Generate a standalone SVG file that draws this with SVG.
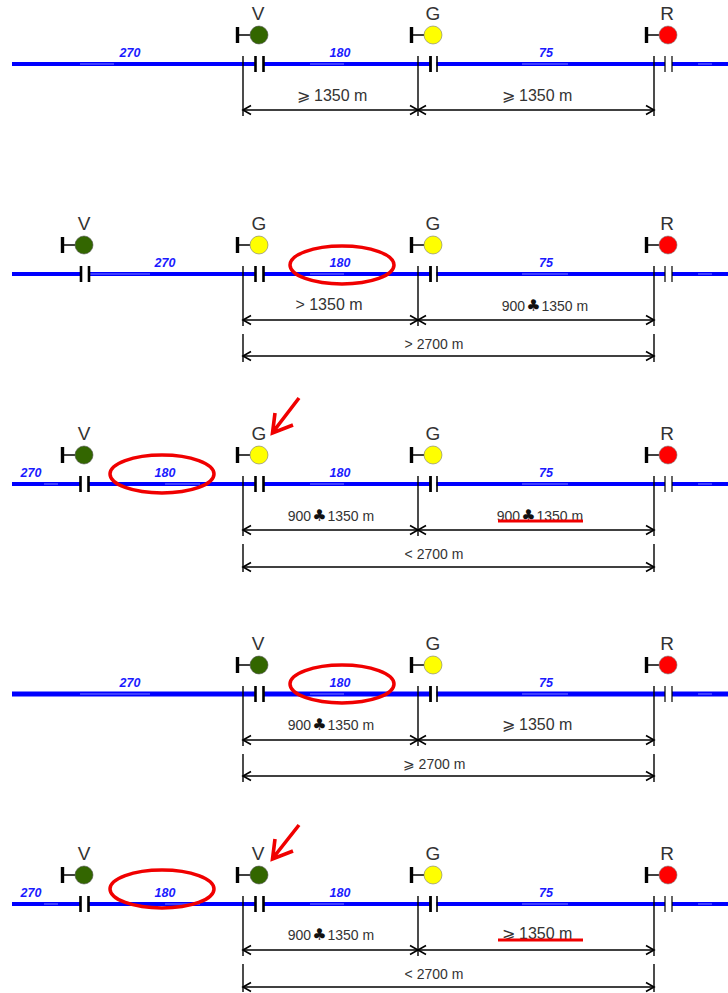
<svg xmlns="http://www.w3.org/2000/svg" width="728" height="993" viewBox="0 0 728 993">
<style>
text{font-family:"Liberation Sans",Arial,sans-serif;text-anchor:middle}
.sig{font-size:19px;fill:#333}
.sp{font-size:12.5px;font-style:italic;font-weight:bold;fill:#1a1aff}
.d1{font-size:16px;fill:#333}
.d2{font-size:14px;fill:#333}
.club{font-family:"DejaVu Sans",sans-serif;font-size:16px;fill:#111}
.track{stroke:#0000ff;stroke-width:4;fill:none}
.track5{stroke:#0000ff;stroke-width:5;fill:none}
.tick{stroke:#000;stroke-width:1.4;fill:none}
.dim{stroke:#000;stroke-width:1.4;fill:none;marker-start:url(#aL);marker-end:url(#aR)}
.ell{fill:none;stroke:#f00000;stroke-width:3.5}
.red{stroke:#f00000;stroke-width:3;fill:none}
.arr{stroke:#f00000;stroke-width:3.6;fill:none}
.hi{stroke:#7a7aff;stroke-width:1;fill:none}
</style>
<defs>
<marker id="aR" markerUnits="userSpaceOnUse" markerWidth="12" markerHeight="12" refX="10" refY="6" orient="auto"><path d="M2 1.5 L10 6 L2 10.5" fill="none" stroke="#000" stroke-width="1.6"/></marker>
<marker id="aL" markerUnits="userSpaceOnUse" markerWidth="12" markerHeight="12" refX="2" refY="6" orient="auto"><path d="M10 1.5 L2 6 L10 10.5" fill="none" stroke="#000" stroke-width="1.6"/></marker>
<g id="joint"><rect x="-4" y="-3.5" width="8" height="7" fill="#fff"/><path d="M-4 -8V8" stroke="#000" stroke-width="2.6"/><path d="M4 -8V8" stroke="#000" stroke-width="2.6"/></g>
<g id="jointg"><rect x="-3" y="-3.5" width="6" height="7" fill="#fff"/><path d="M-3 -8V8" stroke="#000" stroke-width="2.8"/><path d="M3.5 -8V8" stroke="#000" stroke-width="1.6"/></g>
<g id="jointr"><rect x="-3.5" y="-3.5" width="7" height="7" fill="#fff"/><path d="M-3.5 -8V8" stroke="#000" stroke-width="1.2"/><path d="M3.5 -8V8" stroke="#000" stroke-width="1.2"/></g>
<g id="head"><path d="M-21.5 -8V8" stroke="#000" stroke-width="3.4"/><path d="M-21.5 0H-9" stroke="#000" stroke-width="1.5"/></g>
<circle id="lv" r="9" fill="#336600" stroke="#555" stroke-width=".6"/>
<circle id="lg" r="9" fill="#ffff00" stroke="#777" stroke-width=".6"/>
<circle id="lr" r="9" fill="#ff0000" stroke="#777" stroke-width=".6"/>
</defs>
<g id="connectors">
<path class="track" d="M12 64H728M12 274H728M12 484H728M12 904H728"/>
<path class="track5" d="M12 694H728"/>
<path class="hi" d="M310 64H344M80 64H114M522 64H568M80 274H150M310 274H344M522 274H568M44 484H58M165 484H200M310 484H344M522 484H568M80 694H150M310 694H344M522 694H568M44 904H58M165 904H200M310 904H344M522 904H568M698 64H712M698 274H712M698 484H712M698 694H712M698 904H712"/>
<path class="tick" d="M243 56V116M418 56V116M654 56V116M243 266V326M418 266V326M654 266V326M243 334V362M654 334V362M243 476V536M418 476V536M654 476V536M243 544V572M654 544V572M243 686V746M418 686V746M654 686V746M243 754V782M654 754V782M243 896V956M418 896V956M654 896V956M243 964V992M654 964V992"/>
<path class="dim" d="M243 110H418"/><path class="dim" d="M418 110H654"/>
<path class="dim" d="M243 320H418"/><path class="dim" d="M418 320H654"/><path class="dim" d="M243 356H654"/>
<path class="dim" d="M243 530H418"/><path class="dim" d="M418 530H654"/><path class="dim" d="M243 567H654"/>
<path class="dim" d="M243 740H418"/><path class="dim" d="M418 740H654"/><path class="dim" d="M243 776H654"/>
<path class="dim" d="M243 950H418"/><path class="dim" d="M418 950H654"/><path class="dim" d="M243 987H654"/>
</g>
<g id="row1">
<use href="#joint" x="259.5" y="64"/><use href="#jointg" x="433.5" y="64"/><use href="#jointr" x="668.5" y="64"/>
<g id="s1v"><use href="#head" x="259" y="35"/><use href="#lv" x="259" y="35"/><text class="sig" x="258" y="20">V</text></g>
<g id="s1g"><use href="#head" x="433" y="35"/><use href="#lg" x="433" y="35"/><text class="sig" x="433" y="20">G</text></g>
<g id="s1r"><use href="#head" x="668" y="35"/><use href="#lr" x="668" y="35"/><text class="sig" x="667" y="20">R</text></g>
<text class="sp" x="130" y="57">270</text><text class="sp" x="340" y="57">180</text><text class="sp" x="546" y="57">75</text>
<text class="d1" x="332" y="101">⩾ 1350 m</text><text class="d1" x="537" y="101">⩾ 1350 m</text>
</g>
<g id="row2">
<use href="#joint" x="85" y="274"/><use href="#joint" x="259.5" y="274"/><use href="#jointg" x="433.5" y="274"/><use href="#jointr" x="668.5" y="274"/>
<g id="s2v"><use href="#head" x="84" y="245"/><use href="#lv" x="84" y="245"/><text class="sig" x="84" y="230">V</text></g>
<g id="s2g1"><use href="#head" x="259" y="245"/><use href="#lg" x="259" y="245"/><text class="sig" x="259" y="230">G</text></g>
<g id="s2g2"><use href="#head" x="433" y="245"/><use href="#lg" x="433" y="245"/><text class="sig" x="433" y="230">G</text></g>
<g id="s2r"><use href="#head" x="668" y="245"/><use href="#lr" x="668" y="245"/><text class="sig" x="667" y="230">R</text></g>
<text class="sp" x="165" y="267">270</text><text class="sp" x="340" y="267">180</text><text class="sp" x="546" y="267">75</text>
<text class="d1" x="329" y="310">&gt; 1350 m</text><text class="d2" x="545" y="311">900<tspan class="club" dx="1">♣</tspan><tspan dx="1">1350 m</tspan></text><text class="d2" x="434" y="349">&gt; 2700 m</text>
<ellipse class="ell" cx="342" cy="265" rx="52" ry="19"/>
</g>
<g id="row3">
<use href="#joint" x="84.5" y="484"/><use href="#joint" x="259.5" y="484"/><use href="#jointg" x="433.5" y="484"/><use href="#jointr" x="668.5" y="484"/>
<g id="s3v"><use href="#head" x="84" y="455"/><use href="#lv" x="84" y="455"/><text class="sig" x="84" y="440">V</text></g>
<g id="s3g1"><use href="#head" x="259" y="455"/><use href="#lg" x="259" y="455"/><text class="sig" x="259" y="440">G</text></g>
<g id="s3g2"><use href="#head" x="433" y="455"/><use href="#lg" x="433" y="455"/><text class="sig" x="433" y="440">G</text></g>
<g id="s3r"><use href="#head" x="668" y="455"/><use href="#lr" x="668" y="455"/><text class="sig" x="667" y="440">R</text></g>
<text class="sp" x="31" y="477">270</text><text class="sp" x="165" y="477">180</text><text class="sp" x="340" y="477">180</text><text class="sp" x="546" y="477">75</text>
<text class="d2" x="331" y="521">900<tspan class="club" dx="1">♣</tspan><tspan dx="1">1350 m</tspan></text><text class="d2" x="540" y="521">900<tspan class="club" dx="1">♣</tspan><tspan dx="1">1350 m</tspan></text><text class="d2" x="434" y="559">&lt; 2700 m</text>
<ellipse class="ell" cx="162" cy="474" rx="52" ry="19"/>
<path class="red" d="M498 521H583"/>
<path class="arr" d="M299 398L273 432M275 413L272.500 433L293 425"/>
</g>
<g id="row4">
<use href="#joint" x="259.5" y="694"/><use href="#jointg" x="433.5" y="694"/><use href="#jointr" x="668.5" y="694"/>
<g id="s4v"><use href="#head" x="259" y="665"/><use href="#lv" x="259" y="665"/><text class="sig" x="258" y="650">V</text></g>
<g id="s4g"><use href="#head" x="433" y="665"/><use href="#lg" x="433" y="665"/><text class="sig" x="433" y="650">G</text></g>
<g id="s4r"><use href="#head" x="668" y="665"/><use href="#lr" x="668" y="665"/><text class="sig" x="667" y="650">R</text></g>
<text class="sp" x="130" y="687">270</text><text class="sp" x="340" y="687">180</text><text class="sp" x="546" y="687">75</text>
<text class="d2" x="331" y="730">900<tspan class="club" dx="1">♣</tspan><tspan dx="1">1350 m</tspan></text><text class="d1" x="537" y="730">⩾ 1350 m</text><text class="d2" x="434" y="769">⩾ 2700 m</text>
<ellipse class="ell" cx="342" cy="684" rx="52" ry="19"/>
</g>
<g id="row5">
<use href="#joint" x="84.5" y="904"/><use href="#joint" x="259.5" y="904"/><use href="#jointg" x="433.500" y="904"/><use href="#jointr" x="668.5" y="904"/>
<g id="s5v1"><use href="#head" x="84" y="875"/><use href="#lv" x="84" y="875"/><text class="sig" x="84" y="860">V</text></g>
<g id="s5v2"><use href="#head" x="259" y="875"/><use href="#lv" x="259" y="875"/><text class="sig" x="258" y="860">V</text></g>
<g id="s5g"><use href="#head" x="433" y="875"/><use href="#lg" x="433" y="875"/><text class="sig" x="433" y="860">G</text></g>
<g id="s5r"><use href="#head" x="668" y="875"/><use href="#lr" x="668" y="875"/><text class="sig" x="667" y="860">R</text></g>
<text class="sp" x="31" y="897">270</text><text class="sp" x="165" y="897">180</text><text class="sp" x="340" y="897">180</text><text class="sp" x="546" y="897">75</text>
<text class="d2" x="331" y="940">900<tspan class="club" dx="1">♣</tspan><tspan dx="1">1350 m</tspan></text><text class="d1" x="537" y="939">⩾ 1350 m</text><text class="d2" x="434" y="979">&lt; 2700 m</text>
<ellipse class="ell" cx="162" cy="889" rx="52" ry="19"/>
<path class="red" d="M498 940H583"/>
<path class="arr" d="M299 825L273 858M275 839L272.500 859L293 851"/>
</g>
</svg>
